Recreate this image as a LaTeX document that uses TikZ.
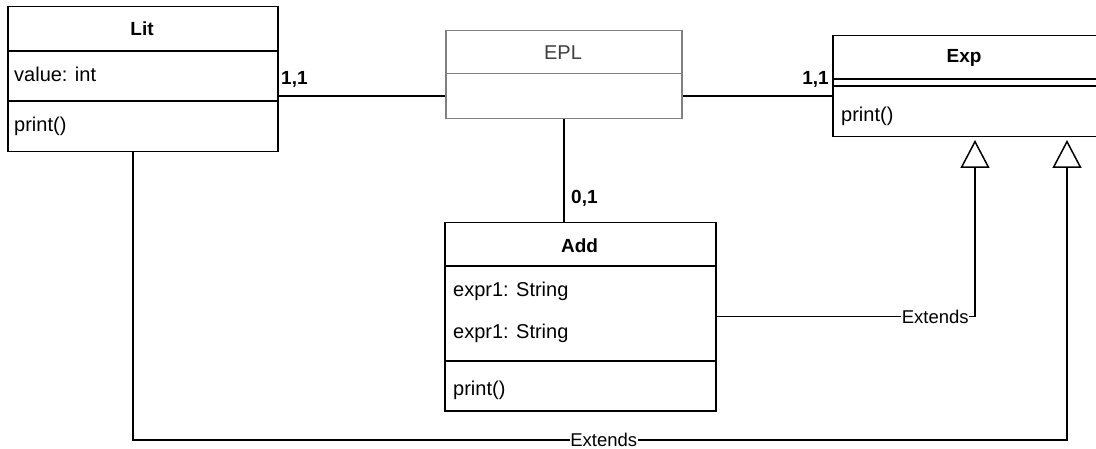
\documentclass[tikz,border=0pt]{standalone}
\usepackage{fontspec}
\setmainfont{Liberation Sans}
\usetikzlibrary{arrows.meta}
\begin{document}
\begin{tikzpicture}[x=1pt,y=-1pt,
  box/.style={draw=black,line width=1.5pt,fill=white,inner sep=0pt,anchor=north west},
  graybox/.style={draw=black!50,line width=1.5pt,fill=white,inner sep=0pt,anchor=north west},
  sep/.style={line width=1.5pt},
  txt/.style={font=\fontsize{20}{23}\selectfont,inner sep=0pt},
  ttl/.style={txt,font=\fontsize{19}{22}\selectfont\bfseries},
  attr/.style={txt,anchor=west},
  mult/.style={txt,font=\fontsize{19}{22}\selectfont\bfseries},
  conn/.style={line width=1.5pt},
  ext/.style={line width=1.5pt,-{Triangle[open,length=28pt,width=29pt,line width=1.5pt]}},
  lbl/.style={font=\fontsize{18.5}{21}\selectfont,fill=white,inner sep=0.5pt,text height=13.5pt,text depth=0pt}
]
\useasboundingbox (0,0) rectangle (1096,449);

% Lit
\node[box,minimum width=270pt,minimum height=145pt] (lit) at (7,6) {};
\draw[sep] (7,51) -- (277,51);
\draw[sep] (7,101) -- (277,101);
\node[ttl] (littitle) at (142,29) {Lit};
\node[attr] (litattr) at (14,74) {value: int};
\node[attr] (litop) at (14,126) {print()};

% EPL
\node[graybox,minimum width=236pt,minimum height=43pt] (eplhead) at (445,30) {};
\node[graybox,minimum width=236pt,minimum height=45pt] (eplbody) at (445,73) {};
\node[txt,text=black!75] (epltitle) at (563,53) {EPL};

% Exp
\node[box,minimum width=266pt,minimum height=101pt] (exp) at (832,35) {};
\draw[sep] (832,79) -- (1098,79);
\draw[sep] (832,86) -- (1098,86);
\node[ttl] (exptitle) at (964,58) {Exp};
\node[attr] (expop) at (841,116) {print()};

% Add
\node[box,minimum width=271pt,minimum height=188pt] (add) at (444,222) {};
\draw[sep] (444,266) -- (715,266);
\draw[sep] (444,361) -- (715,361);
\node[ttl] (addtitle) at (579.5,246) {Add};
\node[attr] (adda1) at (453,291) {expr1: String};
\node[attr] (adda2) at (453,333) {expr1: String};
\node[attr] (addop) at (453,390) {print()};

% associations
\draw[conn] (eplbody.west) -- (eplbody.west -| lit.east);
\draw[conn] (eplbody.east) -- (eplbody.east -| exp.west);
\draw[conn] (eplbody.south) -- (eplbody.south |- add.north);
\node[mult,anchor=west] (m1) at (281,79) {1,1};
\node[mult,anchor=east] (m2) at (829,79) {1,1};
\node[mult,anchor=west] (m3) at (571,198) {0,1};

% generalizations
\coordinate (t1) at (975,140);
\coordinate (t2) at (1067,140);
\coordinate (litb) at (133,151);
\coordinate (c2) at (1067,440);
\draw[ext] (add.east) -| node[lbl,pos=0.423] (e1) {Extends} (t1);
\draw[ext] (litb) |- node[lbl,pos=0.752] (e2) {Extends} (c2) -- (t2);
\end{tikzpicture}
\end{document}
